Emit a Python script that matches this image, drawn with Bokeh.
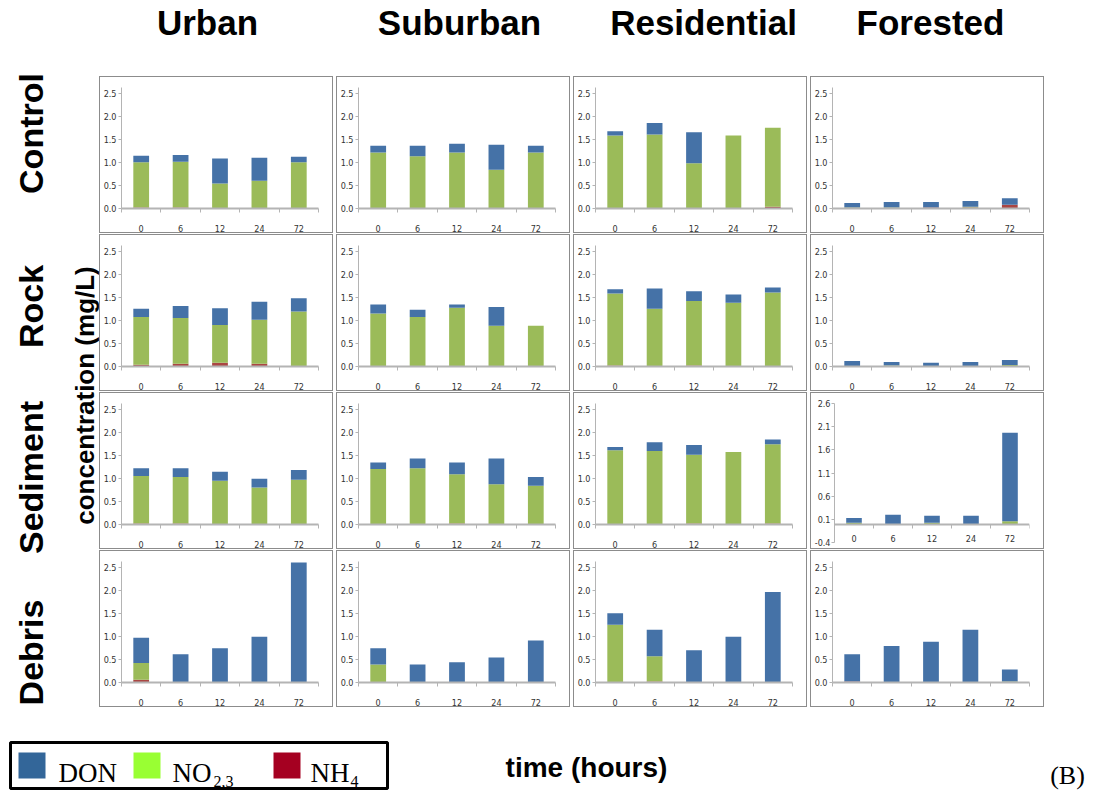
from math import pi

from bokeh.core.properties import value
from bokeh.embed import file_html
from bokeh.layouts import column, row
from bokeh.models import ColumnDataSource, FixedTicker, PrintfTickFormatter, Range1d
from bokeh.plotting import figure
from bokeh.resources import INLINE

# ---------------------------------------------------------------- data (mg/L)
HOURS = ["0", "6", "12", "24", "72"]
LAND_USE = ["Urban", "Suburban", "Residential", "Forested"]
TREATMENTS = ["Control", "Rock", "Sediment", "Debris"]
SERIES = ["NH4", "NO23", "DON"]

# each list: one row per land use (Urban, Suburban, Residential, Forested),
# one value per sampling time (0, 6, 12, 24, 72 h)
CONTROL_NH4 = [[0.02, 0.02, 0.00, 0.00, 0.00],
               [0.00, 0.00, 0.00, 0.00, 0.00],
               [0.00, 0.00, 0.00, 0.00, 0.04],
               [0.00, 0.00, 0.02, 0.02, 0.08]]
CONTROL_NO23 = [[0.98, 0.99, 0.54, 0.60, 1.00],
                [1.21, 1.13, 1.21, 0.84, 1.21],
                [1.58, 1.60, 0.98, 1.58, 1.71],
                [0.02, 0.02, 0.00, 0.02, 0.00]]
CONTROL_DON = [[0.14, 0.15, 0.54, 0.50, 0.12],
               [0.15, 0.23, 0.19, 0.54, 0.15],
               [0.09, 0.25, 0.67, 0.00, 0.00],
               [0.10, 0.12, 0.12, 0.12, 0.14]]

ROCK_NH4 = [[0.04, 0.06, 0.08, 0.06, 0.00],
            [0.00, 0.00, 0.00, 0.00, 0.00],
            [0.02, 0.00, 0.02, 0.00, 0.00],
            [0.00, 0.00, 0.00, 0.00, 0.00]]
ROCK_NO23 = [[1.03, 0.99, 0.82, 0.95, 1.19],
             [1.15, 1.07, 1.27, 0.88, 0.88],
             [1.56, 1.25, 1.40, 1.38, 1.60],
             [0.00, 0.02, 0.00, 0.00, 0.03]]
ROCK_DON = [[0.18, 0.26, 0.36, 0.39, 0.29],
            [0.19, 0.16, 0.07, 0.41, 0.00],
            [0.09, 0.44, 0.21, 0.18, 0.11],
            [0.12, 0.08, 0.08, 0.10, 0.11]]

SEDIMENT_NH4 = [[0.02, 0.02, 0.00, 0.00, 0.00],
                [0.00, 0.00, 0.02, 0.00, 0.00],
                [0.00, 0.00, 0.02, 0.00, 0.02],
                [0.00, 0.00, 0.00, 0.00, 0.00]]
SEDIMENT_NO23 = [[1.03, 1.01, 0.95, 0.80, 0.97],
                 [1.20, 1.22, 1.07, 0.87, 0.84],
                 [1.61, 1.59, 1.49, 1.57, 1.72],
                 [0.03, 0.00, 0.03, 0.00, 0.06]]
SEDIMENT_DON = [[0.17, 0.19, 0.19, 0.19, 0.21],
                [0.14, 0.21, 0.25, 0.56, 0.19],
                [0.07, 0.19, 0.21, 0.00, 0.10],
                [0.10, 0.20, 0.15, 0.18, 1.91]]

DEBRIS_NH4 = [[0.06, 0.01, 0.00, 0.00, 0.00],
              [0.00, 0.01, 0.00, 0.00, 0.00],
              [0.00, 0.02, 0.00, 0.00, 0.00],
              [0.02, 0.00, 0.00, 0.00, 0.00]]
DEBRIS_NO23 = [[0.36, 0.00, 0.00, 0.00, 0.00],
               [0.39, 0.00, 0.01, 0.01, 0.00],
               [1.25, 0.55, 0.00, 0.00, 0.00],
               [0.00, 0.00, 0.00, 0.00, 0.02]]
DEBRIS_DON = [[0.55, 0.60, 0.74, 0.99, 2.60],
              [0.35, 0.38, 0.43, 0.53, 0.91],
              [0.25, 0.57, 0.70, 0.99, 1.96],
              [0.59, 0.79, 0.88, 1.14, 0.26]]

TABLES = {
    "Control": (CONTROL_NH4, CONTROL_NO23, CONTROL_DON),
    "Rock": (ROCK_NH4, ROCK_NO23, ROCK_DON),
    "Sediment": (SEDIMENT_NH4, SEDIMENT_NO23, SEDIMENT_DON),
    "Debris": (DEBRIS_NH4, DEBRIS_NO23, DEBRIS_DON),
}

# ---------------------------------------------------------------- styling
BAR_COLORS = ["#AA4643", "#9BBB59", "#4572A7"]      # NH4, NO2,3, DON
KEY_COLORS = ["#336699", "#99FF33", "#A50021"]      # DON, NO2,3, NH4
AXIS_GREY = "#b4b4b4"
TICK_FONT = "Liberation Sans Narrow, Arial Narrow, DejaVu Sans Condensed, sans-serif"
BOLD_FONT = "Liberation Sans"
SERIF_FONT = "Liberation Serif"

PAGE_W, PAGE_H = 1097, 797
PANEL_W, PANEL_H = 234, 157
COL_GAP, ROW_GAP = 3, 1
LEFT_W, HEAD_H, FOOT_H = 99, 76, 90
GRID_H = 4 * PANEL_H + 3 * ROW_GAP
UPPER_H = HEAD_H + GRID_H


def bar_panel(treatment, site_index):
    nh4, no23, don = (t[site_index] for t in TABLES[treatment])
    odd_scale = treatment == "Sediment" and LAND_USE[site_index] == "Forested"

    if odd_scale:
        y_range = Range1d(-0.42, 2.6)
        y_ticks = [-0.4, 0.1, 0.6, 1.1, 1.6, 2.1, 2.6]
        border = dict(min_border_top=10, min_border_bottom=7)
    else:
        y_range = Range1d(0, 2.62)
        y_ticks = [0.0, 0.5, 1.0, 1.5, 2.0, 2.5]
        border = dict(min_border_top=10, min_border_bottom=22)

    p = figure(width=PANEL_W, height=PANEL_H, x_range=Range1d(0, len(HOURS)),
               y_range=y_range, output_backend="svg", toolbar_location=None,
               min_border_left=18, min_border_right=16, **border,
               outline_line_color=None, background_fill_color="white",
               styles={"border": "1px solid #8c8c8c"})
    p.grid.visible = False

    centres = [i + 0.5 for i in range(len(HOURS))]
    src = ColumnDataSource(dict(x=centres, NH4=nh4, NO23=no23, DON=don))
    p.vbar_stack(SERIES, x="x", width=0.4, fill_color=BAR_COLORS,
                 line_color=None, source=src)

    xa = p.xaxis[0]
    xa.ticker = FixedTicker(ticks=centres, minor_ticks=list(range(len(HOURS) + 1)))
    xa.major_label_overrides = {c: h for c, h in zip(centres, HOURS)}
    xa.major_tick_out = 0
    xa.major_tick_in = 0
    xa.minor_tick_out = 4
    xa.minor_tick_in = 0
    xa.minor_tick_line_color = AXIS_GREY
    xa.axis_line_color = AXIS_GREY
    xa.axis_line_width = 2
    xa.major_label_text_font = TICK_FONT
    xa.major_label_text_font_size = "9px"
    xa.major_label_text_color = "#333333"
    xa.major_label_standoff = 12

    ya = p.yaxis[0]
    ya.ticker = FixedTicker(ticks=y_ticks)
    ya.formatter = PrintfTickFormatter(format="%.1f")
    ya.major_tick_out = 3
    ya.major_tick_in = 0
    ya.minor_tick_line_color = None
    ya.axis_line_color = AXIS_GREY
    ya.major_tick_line_color = AXIS_GREY
    ya.major_label_standoff = 2
    ya.major_label_text_font = TICK_FONT
    ya.major_label_text_font_size = "9px"
    ya.major_label_text_color = "#333333"

    if odd_scale:
        # the time axis crosses the value axis at zero, inside the frame
        xa.fixed_location = 0
        xa.major_label_standoff = 7
        ya.bounds = (-0.4, 2.6)
        ya.major_label_standoff = 1

    # each panel sits in its own box so its frame keeps its own borders
    return column(p, spacing=0)


def blank_strip(width, height):
    p = figure(width=width, height=height, x_range=Range1d(0, width),
               y_range=Range1d(0, height), x_axis_type=None, y_axis_type=None,
               output_backend="svg", toolbar_location=None, min_border=0,
               outline_line_color=None, background_fill_color="white")
    p.grid.visible = False
    return p


# ---------------------------------------------------------------- column titles
header = blank_strip(PAGE_W - LEFT_W, HEAD_H)
header.text(x=[207 - LEFT_W, 459 - LEFT_W, 703 - LEFT_W, 930 - LEFT_W],
            y=[HEAD_H - 22] * 4, text=LAND_USE,
            text_font=value(BOLD_FONT), text_font_style="bold",
            text_font_size="35px", text_align="center", text_baseline="middle",
            text_color="black")

# ---------------------------------------------------------------- row titles
left = blank_strip(LEFT_W, UPPER_H)
row_centres = [133, 306, 477, 652]
left.text(x=[30] * 4, y=[UPPER_H - c for c in row_centres], text=TREATMENTS,
          angle=pi / 2, text_font=value(BOLD_FONT), text_font_style="bold",
          text_font_size="34px", text_align="center", text_baseline="middle",
          text_color="black")
left.text(x=[84], y=[UPPER_H - 395], text=["concentration (mg/L)"],
          angle=pi / 2, text_font=value(BOLD_FONT), text_font_style="bold",
          text_font_size="26px", text_align="center", text_baseline="middle",
          text_color="black")

# ---------------------------------------------------------------- grid of panels
panel_rows = [row(*[bar_panel(t, s) for s in range(len(LAND_USE))], spacing=COL_GAP)
              for t in TREATMENTS]
grid = column(*panel_rows, spacing=ROW_GAP)
upper = row(left, column(header, grid, spacing=0), spacing=0)

# ---------------------------------------------------------------- key and footer
foot = blank_strip(PAGE_W, FOOT_H)
base = UPPER_H + FOOT_H          # page y of the strip's bottom edge
foot.quad(left=[10], right=[387], top=[base - 742], bottom=[base - 788],
          fill_color=None, line_color="black", line_width=3)
foot.quad(left=[18, 133, 273], right=[45, 160, 300],
          top=[base - 752] * 3, bottom=[base - 778] * 3,
          fill_color=KEY_COLORS, line_color=None)
foot.text(x=[58, 172, 310], y=[base - 772] * 3, text=["DON", "NO", "NH"],
          text_font=value(SERIF_FONT), text_font_size="27px",
          text_align="left", text_baseline="alphabetic", text_color="black")
foot.text(x=[213, 350], y=[base - 781] * 2, text=["2,3", "4"],
          text_font=value(SERIF_FONT), text_font_size="16px",
          text_align="left", text_baseline="alphabetic", text_color="black")
foot.text(x=[586], y=[base - 767], text=["time (hours)"],
          text_font=value(BOLD_FONT), text_font_style="bold",
          text_font_size="28px", text_align="center", text_baseline="middle",
          text_color="black")
foot.text(x=[1067], y=[base - 775], text=["(B)"],
          text_font=value(SERIF_FONT), text_font_size="26px",
          text_align="center", text_baseline="middle", text_color="black")

page = column(upper, foot, spacing=0)

with open("out.html", "w") as fh:
    fh.write(file_html(page, INLINE, title="Nitrogen species by land use"))
